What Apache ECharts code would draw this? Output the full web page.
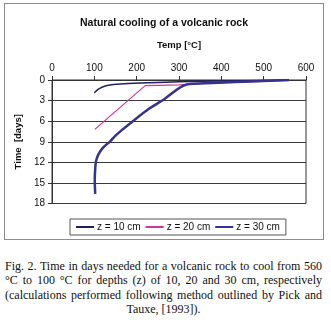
<!DOCTYPE html>
<html>
<head>
<meta charset="utf-8">
<script src="https://cdn.jsdelivr.net/npm/echarts@6/dist/echarts.min.js"></script>
<style>
    body { margin: 0; background: #fff; }
    #chart { position: absolute; left: 4px; top: 3px; width: 318px; height: 235px; border: 1px solid #8c8c8c; }
    #caption {
        position: absolute; left: 5px; top: 259px; width: 317px;
        font-family: 'Liberation Serif', 'Times New Roman', serif; font-size: 12px; line-height: 14.3px;
        text-align: justify; text-align-last: center; color: #111;
    }
</style>
</head>
<body>
<div id="chart"></div>
<div id="caption">Fig. 2. Time in days needed for a volcanic rock to cool from 560 °C to 100 °C for depths (z) of 10, 20 and 30 cm, respectively (calculations performed following method outlined by Pick and Tauxe, [1993]).</div>
<script>
// [temp, days]
var names = ['z = 10 cm', 'z = 20 cm', 'z = 30 cm'];
var z10 = [[560, 0], [450, 0.1], [350, 0.2], [250, 0.35], [180, 0.5], [145, 0.65], [130, 0.8], [118, 1.05], [108, 1.4], [100, 1.85]];
var z20 = [[560, 0.05], [450, 0.3], [350, 0.55], [300, 0.72], [250, 0.78], [220, 0.82], [101, 7.2]];
var z30 = [[560, 0], [450, 0.25], [380, 0.45], [318, 0.65], [265, 2.8], [229, 4.2], [191, 6], [167, 7.2], [150, 8.1], [138, 8.9], [120, 9.9], [110, 10.8], [104, 11.8], [102, 13], [101, 14.5], [102, 16.6]];
var tempTicks = [0, 600, 100];
var dayTicks = [0, 18, 3];

var chartDom = document.getElementById('chart');
var myChart = echarts.init(chartDom);
var option;

var font = 'Arial, "Liberation Sans", sans-serif';
var colors = ['#1f1f66', '#d1359c', '#35318f'];

option = {
    animation: false,
    title: {
        text: 'Natural cooling of a volcanic rock',
        left: 'center',
        top: 9,
        textStyle: { fontFamily: font, fontSize: 10.5, fontWeight: 'bold', color: '#111' }
    },
    legend: {
        data: names.map(function (n, i) {
            return { name: n, icon: 'rect', itemStyle: { color: colors[i] } };
        }),
        left: 65,
        top: 215,
        padding: [3, 6],
        itemGap: 5,
        itemWidth: 18,
        itemHeight: 2,
        borderColor: '#555',
        borderWidth: 1,
        textStyle: { fontFamily: font, fontSize: 10, color: '#111', padding: [0, 0, 0, -2] }
    },
    grid: {
        left: 43,
        right: 17,
        top: 76,
        bottom: 35.5,
        show: true,
        borderColor: '#333',
        borderWidth: 1
    },
    xAxis: {
        type: 'value',
        position: 'top',
        min: tempTicks[0],
        max: tempTicks[1],
        interval: tempTicks[2],
        name: 'Temp [°C]',
        nameLocation: 'middle',
        nameGap: 30,
        nameTextStyle: { fontFamily: font, fontSize: 9.5, fontWeight: 'bold', color: '#111' },
        axisLine: { lineStyle: { color: '#333' } },
        axisTick: { show: true, length: 4, lineStyle: { color: '#333' } },
        axisLabel: { fontFamily: font, fontSize: 10, color: '#111', margin: 7 },
        splitLine: { show: false }
    },
    yAxis: {
        type: 'value',
        inverse: true,
        min: dayTicks[0],
        max: dayTicks[1],
        interval: dayTicks[2],
        name: 'Time  [days]',
        nameLocation: 'middle',
        nameGap: 28,
        nameTextStyle: { fontFamily: font, fontSize: 9.5, fontWeight: 'bold', color: '#111' },
        axisLine: { lineStyle: { color: '#333' } },
        axisTick: { show: true, length: 4, lineStyle: { color: '#333' } },
        axisLabel: { fontFamily: font, fontSize: 10, color: '#111', margin: 7 },
        splitLine: { show: true, lineStyle: { color: '#3a3a3a', width: 1 } }
    },
    series: [
        {
            name: names[0],
            type: 'line',
            data: z10,
            symbol: 'none',
            smooth: 0.3,
            lineStyle: { color: colors[0], width: 1.5 },
            itemStyle: { color: colors[0] }
        },
        {
            name: names[1],
            type: 'line',
            data: z20,
            symbol: 'none',
            lineStyle: { color: colors[1], width: 1.2 },
            itemStyle: { color: colors[1] }
        },
        {
            name: names[2],
            type: 'line',
            data: z30,
            symbol: 'none',
            smooth: 0.3,
            lineStyle: { color: colors[2], width: 2.5 },
            itemStyle: { color: colors[2] }
        }
    ]
};

option && myChart.setOption(option);

window.addEventListener('resize', myChart.resize);
</script>
</body>
</html>
